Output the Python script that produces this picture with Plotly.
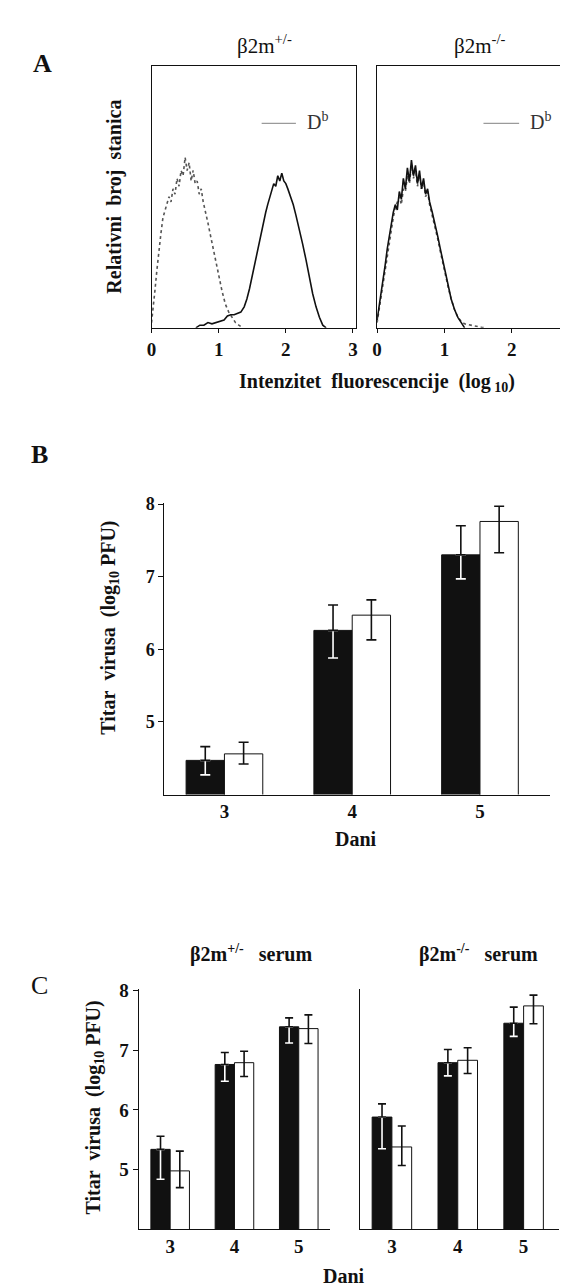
import numpy as np
import plotly.graph_objects as go

W, H = 568, 1287

# ---------------- Panel A: flow cytometry histograms ----------------
iso_het_x = [0.00,0.02,0.05,0.08,0.11,0.14,0.17,0.20,0.23,0.26,0.29,0.32,0.35,0.38,0.41,0.44,0.47,0.50,0.53,0.56,
             0.59,0.62,0.65,0.68,0.71,0.74,0.77,0.80,0.84,0.88,0.92,0.96,1.00,1.05,1.10,1.15,1.20,1.25,1.30,1.36]
iso_het_y = [0.02,0.06,0.14,0.22,0.30,0.36,0.42,0.45,0.47,0.50,0.48,0.53,0.51,0.57,0.54,0.60,0.58,0.65,0.60,0.63,
             0.56,0.60,0.55,0.56,0.51,0.53,0.48,0.45,0.40,0.35,0.30,0.24,0.19,0.14,0.09,0.06,0.04,0.02,0.01,0.00]
db_het_x = [0.66,0.72,0.78,0.84,0.90,0.96,1.02,1.08,1.13,1.18,1.23,1.28,1.33,1.38,1.42,1.46,1.50,1.54,1.58,1.62,
            1.66,1.70,1.73,1.76,1.79,1.82,1.85,1.88,1.91,1.94,1.97,2.00,2.03,2.07,2.11,2.15,2.20,2.25,2.30,2.35,
            2.40,2.45,2.50,2.55,2.60]
db_het_y = [0.00,0.01,0.01,0.02,0.015,0.02,0.025,0.03,0.045,0.05,0.05,0.055,0.06,0.08,0.11,0.15,0.20,0.25,0.30,0.35,
            0.40,0.44,0.47,0.50,0.52,0.55,0.54,0.58,0.56,0.59,0.56,0.55,0.53,0.50,0.47,0.43,0.38,0.32,0.26,0.19,
            0.13,0.08,0.04,0.01,0.00]
iso_ko_x = [0.00,0.03,0.06,0.09,0.12,0.15,0.18,0.21,0.24,0.27,0.30,0.33,0.36,0.39,0.42,0.45,0.48,0.51,0.54,0.57,
            0.60,0.63,0.66,0.69,0.72,0.75,0.78,0.82,0.86,0.90,0.94,0.98,1.02,1.06,1.10,1.15,1.20,1.25,1.30,1.38,
            1.46,1.55,1.62]
iso_ko_y = [0.02,0.07,0.12,0.18,0.23,0.28,0.33,0.38,0.42,0.46,0.48,0.50,0.47,0.53,0.52,0.58,0.55,0.62,0.57,0.60,
            0.54,0.58,0.53,0.56,0.50,0.52,0.47,0.43,0.39,0.34,0.29,0.24,0.20,0.15,0.11,0.07,0.04,0.025,0.015,0.01,
            0.005,0.002,0.00]
db_ko_x = [0.00,0.03,0.06,0.09,0.12,0.15,0.18,0.21,0.24,0.27,0.30,0.33,0.36,0.39,0.42,0.45,0.48,0.51,0.54,0.57,
           0.60,0.63,0.66,0.69,0.72,0.75,0.78,0.82,0.86,0.90,0.94,0.98,1.02,1.06,1.10,1.15,1.20,1.25,1.30]
db_ko_y = [0.03,0.08,0.13,0.19,0.24,0.30,0.35,0.40,0.44,0.47,0.45,0.52,0.49,0.57,0.53,0.61,0.56,0.64,0.58,0.62,
           0.55,0.60,0.53,0.57,0.51,0.53,0.48,0.44,0.40,0.35,0.30,0.25,0.20,0.15,0.11,0.07,0.04,0.02,0.00]
a_ticks = [0, 1, 2, 3]

# ---------------- Panel B: virus titre ----------------
days = [3, 4, 5]
b_black = [4.47, 6.26, 7.30]
b_black_plus = [0.19, 0.35, 0.40]
b_black_minus = [0.20, 0.38, 0.33]
b_white = [4.56, 6.47, 7.76]
b_white_plus = [0.16, 0.21, 0.21]
b_white_minus = [0.14, 0.34, 0.43]

# ---------------- Panel C: serum transfer ----------------
cl_black = [5.34, 6.76, 7.39]
cl_black_plus = [0.22, 0.20, 0.15]
cl_black_minus = [0.50, 0.28, 0.27]
cl_white = [4.98, 6.79, 7.36]
cl_white_plus = [0.33, 0.19, 0.23]
cl_white_minus = [0.28, 0.23, 0.25]
cr_black = [5.88, 6.79, 7.45]
cr_black_plus = [0.22, 0.22, 0.27]
cr_black_minus = [0.53, 0.22, 0.22]
cr_white = [5.38, 6.83, 7.74]
cr_white_plus = [0.35, 0.21, 0.18]
cr_white_minus = [0.31, 0.22, 0.30]
y_ticks = [5, 6, 7, 8]

FONT = "Liberation Serif"
INK = "#111111"
BAR_W = 0.3
SP = "&nbsp;&nbsp;"


def px_x(p):
    return p / W


def px_y(p):
    return 1 - p / H


def bold_font(size, color=INK):
    return dict(family=FONT, size=size, color=color, weight="bold")


fig = go.Figure()

# ---- Panel A traces
a_sets = [("x", "y", iso_het_x, iso_het_y, db_het_x, db_het_y),
          ("x2", "y2", iso_ko_x, iso_ko_y, db_ko_x, db_ko_y)]
for xa, ya, ix, iy, dx, dy in a_sets:
    fig.add_trace(go.Scatter(x=ix, y=iy, xaxis=xa, yaxis=ya, mode="lines",
                             line=dict(color="#555555", width=1.6, dash="dot"),
                             showlegend=False, hoverinfo="skip"))
    fig.add_trace(go.Scatter(x=dx, y=dy, xaxis=xa, yaxis=ya, mode="lines",
                             line=dict(color=INK, width=1.6),
                             showlegend=False, hoverinfo="skip"))


def add_bar_panel(xa, ya, black, bplus, bminus, white, wplus, wminus, cap):
    d = np.array(days, dtype=float)
    fig.add_trace(go.Bar(x=days, y=black, width=BAR_W, offset=-BAR_W, xaxis=xa, yaxis=ya,
                         marker=dict(color=INK, line=dict(color=INK, width=1)),
                         showlegend=False, hoverinfo="skip"))
    fig.add_trace(go.Bar(x=days, y=white, width=BAR_W, offset=0, xaxis=xa, yaxis=ya,
                         marker=dict(color="white", line=dict(color=INK, width=1)),
                         showlegend=False, hoverinfo="skip"))
    inv = dict(size=1, color="rgba(0,0,0,0)")
    zeros = [0] * len(days)
    # lower half of error bar inside the black bar (white)
    fig.add_trace(go.Scatter(x=d - BAR_W / 2, y=black, xaxis=xa, yaxis=ya, mode="markers", marker=inv,
                             error_y=dict(type="data", symmetric=False, array=zeros, arrayminus=bminus,
                                          color="white", thickness=1.6, width=cap),
                             showlegend=False, hoverinfo="skip"))
    fig.add_trace(go.Scatter(x=d - BAR_W / 2, y=black, xaxis=xa, yaxis=ya, mode="markers", marker=inv,
                             error_y=dict(type="data", symmetric=False, array=bplus, arrayminus=zeros,
                                          color=INK, thickness=1.6, width=cap),
                             showlegend=False, hoverinfo="skip"))
    fig.add_trace(go.Scatter(x=d + BAR_W / 2, y=white, xaxis=xa, yaxis=ya, mode="markers", marker=inv,
                             error_y=dict(type="data", symmetric=False, array=wplus, arrayminus=wminus,
                                          color=INK, thickness=1.6, width=cap),
                             showlegend=False, hoverinfo="skip"))


add_bar_panel("x3", "y3", b_black, b_black_plus, b_black_minus, b_white, b_white_plus, b_white_minus, 5)
add_bar_panel("x4", "y4", cl_black, cl_black_plus, cl_black_minus, cl_white, cl_white_plus, cl_white_minus, 4)
add_bar_panel("x5", "y5", cr_black, cr_black_plus, cr_black_minus, cr_white, cr_white_plus, cr_white_minus, 4)

a_x_common = dict(showline=True, linecolor=INK, linewidth=1.3, mirror=True, ticks="outside",
                  ticklen=4, tickcolor=INK, tickvals=a_ticks, showgrid=False, zeroline=False,
                  tickfont=bold_font(19))
a_y_common = dict(showline=True, linecolor=INK, linewidth=1.3, mirror=True, ticks="",
                  showticklabels=False, showgrid=False, zeroline=False, range=[0, 1])
bar_x_common = dict(showline=True, linecolor=INK, linewidth=1.3, ticks="", tickvals=days,
                    showgrid=False, zeroline=False, tickfont=bold_font(19))
bar_y_common = dict(showline=True, linecolor=INK, linewidth=1.3, ticks="outside", ticklen=5,
                    tickcolor=INK, tickvals=y_ticks, showgrid=False, zeroline=False, range=[4, 8.02],
                    tickfont=bold_font(19))

fig.update_layout(
    width=W, height=H, margin=dict(l=0, r=0, t=0, b=0),
    paper_bgcolor="white", plot_bgcolor="white", barmode="overlay",
    font=dict(family=FONT, color=INK),
    xaxis=dict(domain=[px_x(140), px_x(347)], range=[0, 3.05], anchor="y", **a_x_common),
    yaxis=dict(domain=[px_y(313), px_y(49)], anchor="x", **a_y_common),
    xaxis2=dict(domain=[px_x(368), 1.0], range=[0, 2.94], anchor="y2", **a_x_common),
    yaxis2=dict(domain=[px_y(313), px_y(49)], anchor="x2", **a_y_common),
    xaxis3=dict(domain=[px_x(153), px_x(543)], range=[2.53, 5.55], anchor="y3", **bar_x_common),
    yaxis3=dict(domain=[px_y(783), px_y(489)], anchor="x3", **{**bar_y_common, "tickfont": bold_font(18)}),
    xaxis4=dict(domain=[px_x(127), px_x(320)], range=[2.51, 5.48], anchor="y4", **bar_x_common),
    yaxis4=dict(domain=[px_y(1221), px_y(979)], anchor="x4", **bar_y_common),
    xaxis5=dict(domain=[px_x(351), px_x(552)], range=[2.52, 5.54], anchor="y5", **bar_x_common),
    yaxis5=dict(domain=[px_y(1221), px_y(979)], anchor="x5",
                **{**bar_y_common, "ticks": "", "showticklabels": False}),
)

# legend samples in panel A
for xa, ya, x0, x1, tx in [("x", "y", 1.64, 2.15, 2.47), ("x2", "y2", 1.58, 2.11, 2.42)]:
    fig.add_shape(type="line", xref=xa, yref=ya, x0=x0, x1=x1, y0=0.78, y1=0.78,
                  line=dict(color="#9a9a9a", width=1.2))
    fig.add_annotation(xref=xa, yref=ya, x=tx, y=0.79, text="D<sup>b</sup>", showarrow=False,
                       font=dict(family=FONT, size=20, color="#333333"))

# partially visible "3" at the right edge of panel A
fig.add_annotation(xref="paper", yref="paper", x=px_x(559), y=px_y(327), text="3", showarrow=False,
                   xanchor="left", yanchor="middle", font=bold_font(19))


def ann(x, y, text, size, angle=0, bold=True):
    fnt = bold_font(size) if bold else dict(family=FONT, size=size, color=INK)
    fig.add_annotation(xref="paper", yref="paper", x=px_x(x), y=px_y(y), text=text, showarrow=False,
                       textangle=angle, xanchor="center", yanchor="middle", font=fnt)


ann(30, 47, "A", 26)
ann(27, 441, "B", 26)
ann(27, 975, "C", 26, bold=False)

ann(254, 28, "β2m<sup>+/-</sup>", 21, bold=False)
ann(472, 28, "β2m<sup>-/-</sup>", 21, bold=False)
ann(103, 181, f"Relativni{SP}broj{SP}stanica", 20, angle=-90)
ann(368, 368, f"Intenzitet{SP}fluorescencije{SP}(log<sub>&nbsp;10</sub>)", 20)

ann(98, 615, f"Titar{SP}virusa{SP}(log<sub>10</sub>&nbsp;PFU)", 20, angle=-90)
ann(347, 828, "Dani", 20)

ann(241, 943, f"β2m<sup>+/-</sup>{SP}&nbsp;serum", 20)
ann(470, 943, f"β2m<sup>-/-</sup>{SP}&nbsp;serum", 20)
ann(82, 1098, f"Titar{SP}virusa{SP}(log<sub>10</sub>&nbsp;PFU)", 20, angle=-90)
ann(335, 1268, "Dani", 20)

fig.write_html("out.html")
